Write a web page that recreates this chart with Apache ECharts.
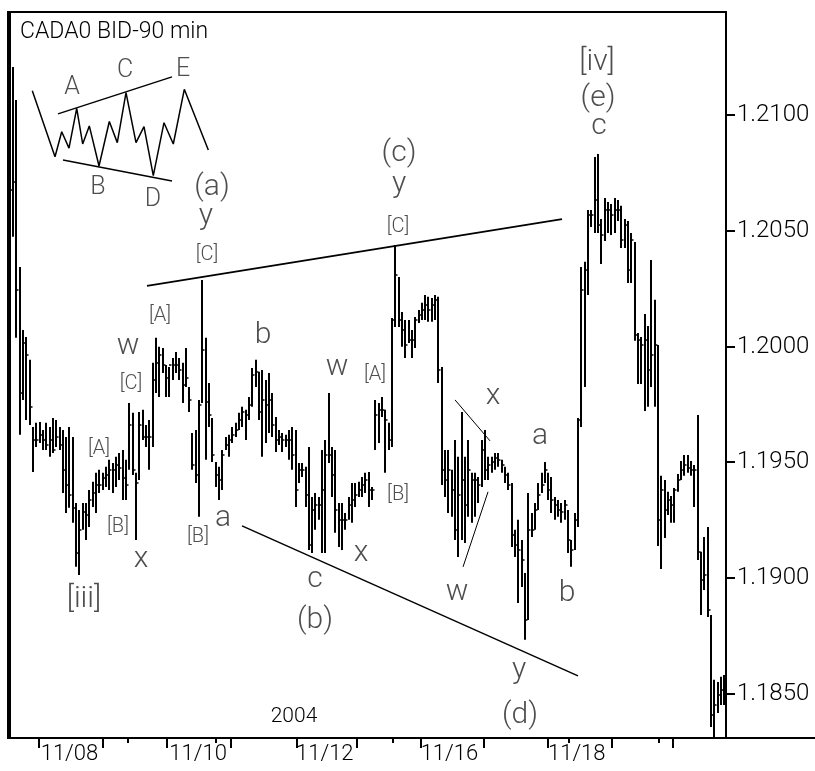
<!DOCTYPE html>
<html>
<head>
<meta charset="utf-8">
<script src="https://cdn.jsdelivr.net/npm/echarts@6/dist/echarts.min.js"></script>
<style>html,body{margin:0;padding:0;background:#fff;}#c{width:815px;height:771px;}</style>
</head>
<body>
<div id="c"></div>
<script>
// ---- data (90-minute bars, CAD future bid) ----
const highs = [
1.20828,1.21208,1.21065,1.20344,1.20072,1.20042,1.19943,1.19653,1.19671,1.19675,
1.19640,1.19671,1.19653,1.19692,1.19683,1.19653,1.19640,1.19610,1.19653,1.19610,
1.19325,1.19295,1.19325,1.19325,1.19381,1.19416,1.19455,1.19468,1.19455,1.19481,
1.19511,1.19498,1.19524,1.19541,1.19554,1.19511,1.19757,1.19714,1.19455,1.19718,
1.19727,1.19662,1.19683,1.19930,1.20038,1.19999,1.19994,1.19921,1.19912,1.19951,
1.19977,1.19951,1.19930,1.19994,1.19826,1.19627,1.19640,1.19770,1.20288,1.20038,
1.19843,1.19692,1.19502,1.19481,1.19554,1.19610,1.19619,1.19653,1.19671,1.19714,
1.19740,1.19727,1.19783,1.19908,1.19943,1.19891,1.19899,1.19856,1.19886,1.19800,
1.19696,1.19640,1.19627,1.19619,1.19640,1.19653,1.19640,1.19498,1.19498,1.19481,
1.19567,1.19351,1.19368,1.19351,1.19554,1.19597,1.19800,1.19567,1.19554,1.19325,
1.19325,1.19282,1.19351,1.19411,1.19411,1.19416,1.19437,1.19455,1.19459,1.19394,
1.19770,1.19757,1.19783,1.19727,1.19671,1.20124,1.20439,1.20301,1.20150,1.20115,
1.20115,1.20072,1.20128,1.20158,1.20189,1.20223,1.20215,1.20210,1.20223,1.20215,
1.19912,1.19554,1.19554,1.19468,1.19597,1.19524,1.19718,1.19524,1.19597,1.19455,
1.19455,1.19437,1.19597,1.19640,1.19524,1.19524,1.19541,1.19541,1.19511,1.19481,
1.19455,1.19411,1.19209,1.19252,1.19165,1.19023,1.19368,1.19282,1.19325,1.19411,
1.19455,1.19502,1.19455,1.19437,1.19351,1.19338,1.19325,1.19338,1.19295,1.19165,
1.19282,1.19692,1.20344,1.20366,1.20590,1.20590,1.20819,1.20832,1.20551,1.20642,
1.20625,1.20616,1.20642,1.20633,1.20608,1.20551,1.20543,1.20491,1.20452,1.20059,
1.20042,1.20141,1.20089,1.20374,1.20202,1.20007,1.19442,1.19424,1.19373,1.19355,
1.19390,1.19450,1.19506,1.19532,1.19532,1.19506,1.19489,1.19705,1.19114,1.19178,
1.19221,1.18841,1.18561,1.18552,1.18574,1.18582
];
const lows = [
1.20517,1.20474,1.20038,1.19619,1.19770,1.19683,1.19662,1.19459,1.19567,1.19584,
1.19554,1.19554,1.19524,1.19541,1.19567,1.19554,1.19368,1.19282,1.19304,1.19239,
1.19049,1.19014,1.19209,1.19165,1.19221,1.19308,1.19282,1.19368,1.19381,1.19394,
1.19381,1.19368,1.19394,1.19424,1.19338,1.19338,1.19468,1.19446,1.19165,1.19424,
1.19597,1.19567,1.19468,1.19567,1.19800,1.19783,1.19886,1.19783,1.19783,1.19856,
1.19886,1.19856,1.19757,1.19826,1.19718,1.19468,1.19411,1.19265,1.19757,1.19511,
1.19653,1.19502,1.19394,1.19338,1.19381,1.19554,1.19524,1.19584,1.19610,1.19640,
1.19653,1.19597,1.19683,1.19740,1.19826,1.19683,1.19524,1.19584,1.19627,1.19610,
1.19545,1.19575,1.19545,1.19567,1.19511,1.19468,1.19308,1.19411,1.19437,1.19308,
1.19122,1.19109,1.19209,1.19252,1.19109,1.19109,1.19498,1.19351,1.19196,1.19135,
1.19122,1.19209,1.19252,1.19239,1.19308,1.19351,1.19351,1.19368,1.19308,1.19338,
1.19554,1.19584,1.19696,1.19455,1.19554,1.19567,1.20085,1.20085,1.19999,1.19951,
1.20016,1.19951,1.19994,1.20102,1.20115,1.20115,1.20107,1.20107,1.20115,1.19843,
1.19403,1.19351,1.19282,1.19265,1.19165,1.19092,1.19165,1.19152,1.19265,1.19239,
1.19265,1.19325,1.19394,1.19424,1.19424,1.19455,1.19468,1.19481,1.19455,1.19411,
1.19381,1.19135,1.19092,1.18893,1.18962,1.18734,1.18820,1.19178,1.19209,1.19295,
1.19368,1.19411,1.19338,1.19282,1.19252,1.19265,1.19239,1.19252,1.19109,1.19049,
1.19122,1.19221,1.19653,1.19826,1.20223,1.20517,1.20491,1.20491,1.20357,1.20456,
1.20491,1.20482,1.20491,1.20543,1.20426,1.20426,1.20275,1.20275,1.20025,1.19839,
1.19839,1.19722,1.19740,1.19826,1.19740,1.19139,1.19040,1.19174,1.19273,1.19239,
1.19239,1.19373,1.19424,1.19442,1.19455,1.19442,1.19308,1.19079,1.18841,1.18949,
1.18833,1.18358,1.18310,1.18418,1.18453,1.18453
];
const closes = [
1.20677,1.20711,1.20245,1.19800,1.20016,1.19964,1.19740,1.19597,1.19597,1.19619,
1.19597,1.19575,1.19597,1.19554,1.19610,1.19575,1.19468,1.19403,1.19360,1.19304,
1.19109,1.19209,1.19286,1.19273,1.19338,1.19368,1.19403,1.19403,1.19433,1.19446,
1.19468,1.19468,1.19489,1.19476,1.19433,1.19403,1.19662,1.19468,1.19411,1.19662,
1.19610,1.19610,1.19610,1.19856,1.19930,1.19964,1.19921,1.19865,1.19921,1.19921,
1.19921,1.19899,1.19835,1.19865,1.19770,1.19489,1.19446,1.19748,1.19986,1.19761,
1.19705,1.19532,1.19446,1.19424,1.19532,1.19575,1.19597,1.19619,1.19640,1.19683,
1.19718,1.19705,1.19748,1.19878,1.19891,1.19718,1.19770,1.19748,1.19770,1.19662,
1.19597,1.19610,1.19597,1.19597,1.19597,1.19532,1.19381,1.19468,1.19468,1.19360,
1.19144,1.19295,1.19316,1.19316,1.19381,1.19532,1.19532,1.19446,1.19295,1.19252,
1.19252,1.19252,1.19316,1.19338,1.19360,1.19381,1.19403,1.19424,1.19381,1.19381,
1.19705,1.19727,1.19727,1.19683,1.19597,1.20115,1.20310,1.20115,1.20072,1.20007,
1.20029,1.20029,1.20115,1.20137,1.20158,1.20180,1.20158,1.20180,1.20202,1.19899,
1.19468,1.19424,1.19468,1.19381,1.19209,1.19360,1.19424,1.19316,1.19468,1.19424,
1.19424,1.19403,1.19554,1.19468,1.19489,1.19502,1.19519,1.19511,1.19489,1.19446,
1.19403,1.19187,1.19144,1.19122,1.19079,1.18820,1.19209,1.19209,1.19295,1.19360,
1.19403,1.19468,1.19381,1.19338,1.19316,1.19295,1.19286,1.19316,1.19165,1.19122,
1.19252,1.19683,1.20245,1.20331,1.20569,1.20569,1.20633,1.20525,1.20482,1.20590,
1.20590,1.20569,1.20590,1.20590,1.20461,1.20525,1.20331,1.20461,1.20051,1.20029,
1.20007,1.20029,1.19899,1.19964,1.20007,1.19252,1.19381,1.19295,1.19338,1.19316,
1.19381,1.19424,1.19468,1.19489,1.19476,1.19468,1.19468,1.19114,1.18993,1.19014,
1.18863,1.18410,1.18453,1.18496,1.18518,1.18518
];

// axis ticks / labels (x in bar-index units)
const dayLabels   = ['11/08','11/10','11/12','11/16','11/18'];
const dayLabelPos = [18, 56.7, 94.8, 132.3, 170.6];
const majorTicks  = [8.83, 28.08, 47.33, 66.59, 86.44, 104.5, 123.75, 142.7, 161.96, 181.2, 199.56];
const minorTicks  = [35.6, 62.1, 115.3, 168.1, 195.2];
const priceTicks  = [1.185, 1.19, 1.195, 1.2, 1.205, 1.21];

// trend lines [index, price]
const upperTrend = [[41.32, 1.20262], [166.17, 1.20551]];
const lowerTrend = [[69.90, 1.19226], [170.98, 1.18578]];
const xTrend     = [[133.98, 1.19770], [144.51, 1.19593]];
const wTrend     = [[136.39, 1.19049], [143.91, 1.19373]];

// inset triangle sketch [index, price]
const insetZig = [[6.81,1.21105],[13.64,1.20820],[15.66,1.20928],[17.85,1.20857],[20.17,1.21029],[21.97,1.20875],[23.96,1.20953],[26.88,1.20780],[29.98,1.20972],[32.38,1.20881],[35.0,1.21097],[38.01,1.20881],[40.41,1.20950],[43.21,1.20738],[46.43,1.20967],[49.23,1.20875],[52.54,1.21111],[59.76,1.20849]];
const insetUpper = [[14.54, 1.21005], [48.84, 1.21165]];
const insetLower = [[16.05, 1.20806], [48.84, 1.20715]];
const insetLetters = [[18.75,1.21117,'A'],[34.70,1.21190,'C'],[52.15,1.21195,'E'],[26.58,1.20685,'B'],[43.12,1.20633,'D']];

// wave labels [index, price, text]
const waveLabels = [
  [60.87,1.20689,'(a)'],[59.06,1.20561,'y'],
  [35.60,1.19999,'w'],[39.51,1.19079,'x'],[22.36,1.18906,'[iii]'],
  [64.18,1.19256,'a'],[76.22,1.20046,'b'],[91.86,1.18993,'c'],[91.86,1.18816,'(b)'],
  [98.48,1.19912,'w'],[105.70,1.19105,'x'],
  [117.13,1.20836,'(c)'],[117.13,1.20700,'y'],
  [145.41,1.19783,'x'],[159.55,1.19610,'a'],[134.58,1.18937,'w'],[167.67,1.18936,'b'],
  [153.23,1.18601,'y'],[153.53,1.18409,'(d)'],
  [176.70,1.21229,'[iv]'],[177.00,1.21073,'(e)'],[177.30,1.20949,'c']
];
const subLabels = [
  [59.37,1.20396,'[C]'],[45.23,1.20133,'[A]'],[36.50,1.19839,'[C]'],
  [26.88,1.19558,'[A]'],[32.59,1.19221,'[B]'],[56.66,1.19178,'[B]'],
  [109.91,1.19878,'[A]'],[116.83,1.19360,'[B]'],[116.83,1.20517,'[C]']
];

const bars = highs.map((h, i) => [i, h, lows[i], closes[i]]);
const X_MAX = 215.5;

const FONT = 'Roboto';
function labelSeries(data, size, color) {
  return {
    type: 'scatter', data: data, symbolSize: 0.1, silent: true,
    itemStyle: { color: 'rgba(0,0,0,0)' }, z: 5,
    label: { show: true, position: 'inside', formatter: p => p.value[2],
      fontFamily: FONT, fontWeight: 300, fontSize: size, color: color }
  };
}
function lineSeries(data, width) {
  return { type: 'line', data: data, symbol: 'none', silent: true, z: 4,
    lineStyle: { color: '#000', width: width } };
}

const chart = echarts.init(document.getElementById('c'), null, { renderer: 'canvas' });
chart.setOption({
  animation: false,
  backgroundColor: '#fff',
  textStyle: { fontFamily: FONT, fontWeight: 300 },
  grid: { left: 8, right: 89, top: 12, bottom: 33, show: true, borderColor: '#000', borderWidth: 2 },
  xAxis: [
    { type: 'value', min: -0.5, max: X_MAX, position: 'bottom',
      axisLine: { show: true, onZero: false, lineStyle: { color: '#000', width: 2 } },
      splitLine: { show: false },
      axisTick: { show: true, customValues: majorTicks, length: 10, lineStyle: { color: '#000', width: 2 } },
      axisLabel: { show: true, customValues: dayLabelPos, margin: 5, fontSize: 22, color: '#000',
        fontFamily: FONT, fontWeight: 300,
        formatter: v => { const k = dayLabelPos.findIndex(p => Math.abs(p - v) < 0.01); return k >= 0 ? dayLabels[k] : ''; } } },
    { type: 'value', min: -0.5, max: X_MAX, position: 'bottom',
      axisLine: { show: false }, splitLine: { show: false },
      axisTick: { show: true, customValues: minorTicks, length: 5, lineStyle: { color: '#000', width: 2 } },
      axisLabel: { show: false } }
  ],
  yAxis: {
    type: 'value', position: 'right', min: 1.1831, max: 1.21445, scale: true,
    splitLine: { show: false },
    axisLine: { show: true, lineStyle: { color: '#000', width: 2 } },
    axisTick: { show: false },
    axisLabel: { customValues: priceTicks, margin: 11, fontSize: 24, color: '#000', fontFamily: FONT, fontWeight: 300,
      formatter: v => v.toFixed(4) }
  },
  graphic: [
    { type: 'text', x: 20, y: 32, style: { text: 'CADA0 BID-90 min', fontFamily: FONT, fontWeight: 300, fontSize: 23, fill: '#000', align: 'left', verticalAlign: 'middle' } },
    { type: 'text', x: 294, y: 717, style: { text: '2004', fontFamily: FONT, fontWeight: 300, fontSize: 21, fill: '#000', align: 'center', verticalAlign: 'middle' } },
    { type: 'line', shape: { x1: 726, y1: 738, x2: 815, y2: 738 }, style: { stroke: '#000', lineWidth: 2 } }
  ],
  series: [
    { type: 'custom', data: bars, clip: true, silent: true, z: 3,
      encode: { x: 0, y: [1, 2, 3] },
      renderItem: function (params, api) {
        const i = api.value(0);
        const top = api.coord([i, api.value(1)]);
        const bot = api.coord([i, api.value(2)]);
        const cl = api.coord([i, api.value(3)]);
        const x = Math.round(top[0]);
        const yc = Math.round(cl[1]);
        return { type: 'group', children: [
          { type: 'line', shape: { x1: x, y1: top[1], x2: x, y2: bot[1] }, style: { stroke: '#000', lineWidth: 2 } },
          { type: 'line', shape: { x1: x, y1: yc, x2: x + 2.5, y2: yc }, style: { stroke: '#000', lineWidth: 1.5 } }
        ] };
      } },
    // price-axis tick marks (outside, to the right of the axis line)
    { type: 'custom', data: priceTicks.map(v => [X_MAX, v]), clip: false, silent: true, z: 6,
      encode: { x: 0, y: 1 },
      renderItem: function (params, api) {
        const pt = api.coord([api.value(0), api.value(1)]);
        const y = Math.round(pt[1]);
        return { type: 'line', shape: { x1: pt[0], y1: y, x2: pt[0] + 9, y2: y }, style: { stroke: '#000', lineWidth: 2 } };
      } },
    lineSeries(upperTrend, 1.8),
    lineSeries(lowerTrend, 1.5),
    lineSeries(xTrend, 1),
    lineSeries(wTrend, 1),
    lineSeries(insetZig, 1.5),
    lineSeries(insetUpper, 1.5),
    lineSeries(insetLower, 1.5),
    labelSeries(waveLabels, 30, '#222'),
    labelSeries(subLabels, 20, '#222'),
    labelSeries(insetLetters, 25, '#222')
  ]
});
</script>
</body>
</html>
